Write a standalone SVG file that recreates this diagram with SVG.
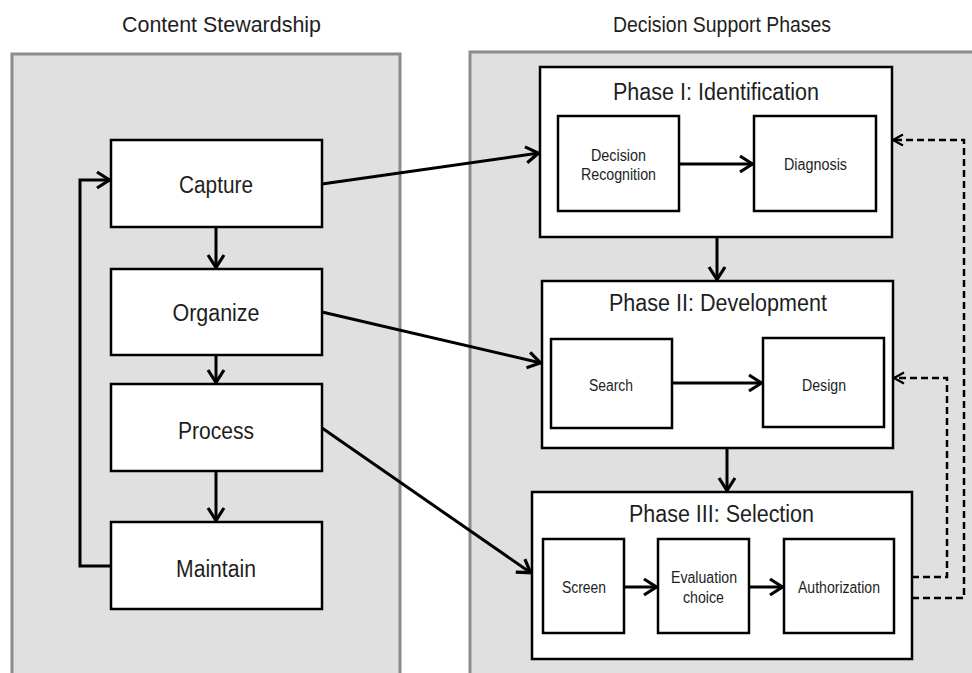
<svg xmlns="http://www.w3.org/2000/svg" width="972" height="673" viewBox="0 0 972 673">
<defs>
<style>
.panel{fill:#e0e0e0;stroke:#8c8c8c;stroke-width:3}
.box{fill:#fff;stroke:#000;stroke-width:2.5}
.t{font-family:"Liberation Sans",Arial,sans-serif;fill:#1e1e1e;text-anchor:middle}
.title{font-size:22px}
.main{font-size:23px}
.ph{font-size:23px}
.sm{font-size:16px}
.c{fill:none;stroke:#000;stroke-width:3}
.d{fill:none;stroke:#000;stroke-width:2.5;stroke-dasharray:7 4}
</style>
<marker id="a" markerUnits="userSpaceOnUse" viewBox="0 0 16 20" markerWidth="16" markerHeight="20" refX="14.5" refY="10" orient="auto">
<path d="M1.5,2 L14,10 L1.5,18" fill="none" stroke="#000" stroke-width="3.2"/>
</marker>
<marker id="ad" markerUnits="userSpaceOnUse" viewBox="0 0 12 14" markerWidth="12" markerHeight="14" refX="11" refY="7" orient="auto">
<path d="M1,1.5 L11,7 L1,12.5" fill="none" stroke="#000" stroke-width="2.2"/>
</marker>
</defs>
<rect width="972" height="673" fill="#fff"/>

<text class="t title" x="221.5" y="32" textLength="199" lengthAdjust="spacingAndGlyphs">Content Stewardship</text>
<text class="t title" x="722" y="32" textLength="218" lengthAdjust="spacingAndGlyphs">Decision Support Phases</text>

<g id="panel-left"><rect class="panel" x="12" y="54" width="388" height="640"/></g>
<g id="panel-right"><rect class="panel" x="470" y="52" width="520" height="640"/></g>

<g id="capture"><rect class="box" x="111" y="140" width="211" height="87"/><text class="t main" x="216" y="193" textLength="74" lengthAdjust="spacingAndGlyphs">Capture</text></g>
<g id="organize"><rect class="box" x="111" y="269" width="211" height="86"/><text class="t main" x="216" y="321" textLength="87" lengthAdjust="spacingAndGlyphs">Organize</text></g>
<g id="process"><rect class="box" x="111" y="384" width="211" height="87"/><text class="t main" x="216" y="439" textLength="76" lengthAdjust="spacingAndGlyphs">Process</text></g>
<g id="maintain"><rect class="box" x="111" y="522" width="211" height="87"/><text class="t main" x="216" y="577" textLength="80" lengthAdjust="spacingAndGlyphs">Maintain</text></g>

<g id="phase1"><rect class="box" x="540" y="67" width="352" height="170"/><text class="t ph" x="716" y="100" textLength="206" lengthAdjust="spacingAndGlyphs">Phase I: Identification</text></g>
<g id="decision-recognition"><rect class="box" x="558" y="116" width="121" height="95"/><text class="t sm" x="618.5" y="160.5" textLength="55" lengthAdjust="spacingAndGlyphs">Decision</text><text class="t sm" x="618.5" y="180" textLength="75" lengthAdjust="spacingAndGlyphs">Recognition</text></g>
<g id="diagnosis"><rect class="box" x="754" y="116" width="122" height="95"/><text class="t sm" x="815.5" y="170" textLength="63" lengthAdjust="spacingAndGlyphs">Diagnosis</text></g>

<g id="phase2"><rect class="box" x="542" y="281" width="351" height="167"/><text class="t ph" x="718" y="311" textLength="218" lengthAdjust="spacingAndGlyphs">Phase II: Development</text></g>
<g id="search"><rect class="box" x="551" y="339" width="121" height="89"/><text class="t sm" x="611" y="391" textLength="44" lengthAdjust="spacingAndGlyphs">Search</text></g>
<g id="design"><rect class="box" x="763" y="338" width="121" height="89"/><text class="t sm" x="824" y="391" textLength="44" lengthAdjust="spacingAndGlyphs">Design</text></g>

<g id="phase3"><rect class="box" x="532" y="492" width="380" height="167"/><text class="t ph" x="721.5" y="522" textLength="185" lengthAdjust="spacingAndGlyphs">Phase III: Selection</text></g>
<g id="screen"><rect class="box" x="543" y="539" width="81" height="94"/><text class="t sm" x="584" y="593" textLength="44" lengthAdjust="spacingAndGlyphs">Screen</text></g>
<g id="evaluation"><rect class="box" x="658" y="539" width="91" height="94"/><text class="t sm" x="704" y="583" textLength="66" lengthAdjust="spacingAndGlyphs">Evaluation</text><text class="t sm" x="703.5" y="603" textLength="41" lengthAdjust="spacingAndGlyphs">choice</text></g>
<g id="authorization"><rect class="box" x="784" y="539" width="110" height="94"/><text class="t sm" x="839" y="593" textLength="82" lengthAdjust="spacingAndGlyphs">Authorization</text></g>

<g id="connectors">
<path class="c" d="M216,227 V268" marker-end="url(#a)"/>
<path class="c" d="M216,355 V383" marker-end="url(#a)"/>
<path class="c" d="M216,471 V521" marker-end="url(#a)"/>
<path class="c" d="M111,566 H80 V180 H110" marker-end="url(#a)"/>
<path class="c" d="M322,184 L539,153" marker-end="url(#a)"/>
<path class="c" d="M322,312 L541,363" marker-end="url(#a)"/>
<path class="c" d="M322,428 L531,573" marker-end="url(#a)"/>
<path class="c" d="M679,164 H753" marker-end="url(#a)"/>
<path class="c" d="M672,383 H762" marker-end="url(#a)"/>
<path class="c" d="M624,587 H657" marker-end="url(#a)"/>
<path class="c" d="M749,587 H783" marker-end="url(#a)"/>
<path class="c" d="M717,237 V280" marker-end="url(#a)"/>
<path class="c" d="M727,448 V491" marker-end="url(#a)"/>
<path class="d" d="M912,577 H947 V378 H894" marker-end="url(#ad)"/>
<path class="d" d="M912,598 H964 V140 H893" marker-end="url(#ad)"/>
</g>
</svg>
